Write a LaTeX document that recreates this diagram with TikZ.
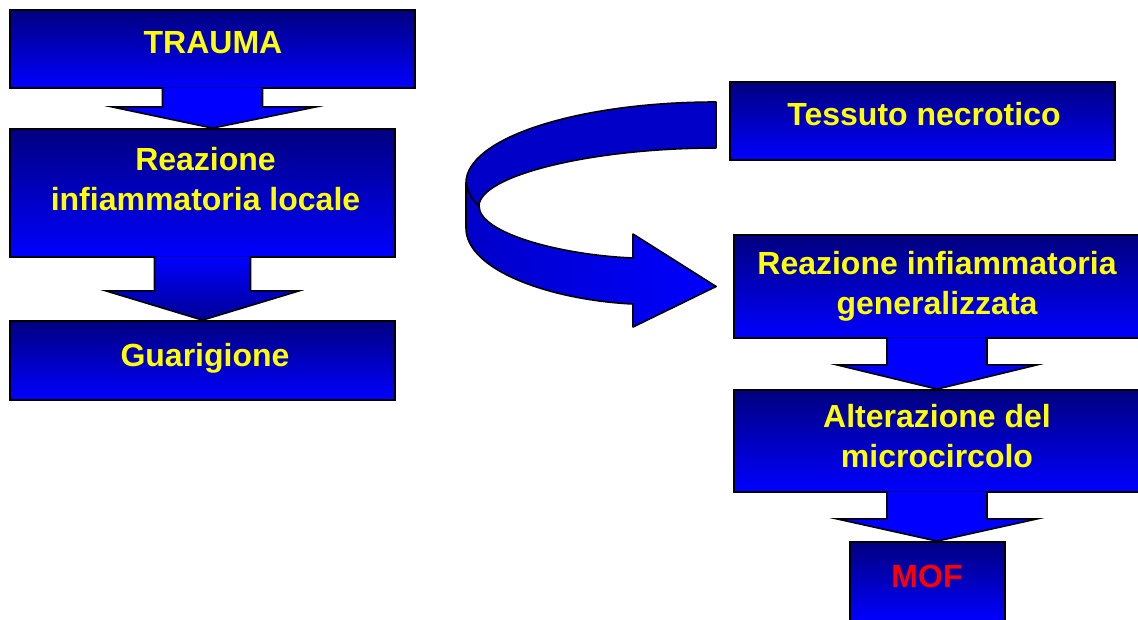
\documentclass[tikz,border=0pt]{standalone}
\usepackage{fontspec}
\setmainfont{Liberation Sans}
\usetikzlibrary{calc}
\definecolor{navyb}{RGB}{0,0,128}
\definecolor{brightb}{RGB}{0,0,255}
\definecolor{midb}{RGB}{0,0,200}
\definecolor{darkb}{RGB}{0,0,150}
\definecolor{txty}{RGB}{255,255,0}
\definecolor{txtr}{RGB}{255,0,0}
\begin{document}
\begin{tikzpicture}[x=1pt,y=-1pt,
  box/.style={draw=black, line width=1.8pt, top color=navyb, bottom color=brightb, inner sep=0pt},
  lbl/.style={text=txty, font=\bfseries\fontsize{32}{40}\selectfont, align=center, anchor=base, inner sep=0pt},
  blockarrow/.style={draw=black, line width=1.6pt, fill=brightb, line join=miter},
  darkarrow/.style={draw=black, line width=1.6pt, top color=brightb, bottom color=darkb, line join=miter},
  curveline/.style={draw=black, line width=1.6pt, line join=round}
]
\useasboundingbox (0,0) rectangle (1138,619);
\clip (0,0) rectangle (1138,619);

% boxes
\node[box, minimum width=405pt, minimum height=78pt] (trauma) at (212.5,49) {};
\node[box, minimum width=385pt, minimum height=128pt] (reaz) at (202.5,193) {};
\node[box, minimum width=385pt, minimum height=79pt] (guar) at (202.5,360.5) {};
\node[box, minimum width=385pt, minimum height=78pt] (tess) at (922.5,121) {};
\node[box, minimum width=406pt, minimum height=103pt] (reazgen) at (937,286.5) {};
\node[box, minimum width=406pt, minimum height=102pt] (alt) at (937,441) {};
\node[box, minimum width=155pt, minimum height=80pt] (mof) at (927.5,582) {};

% block arrows
\path[blockarrow] ($(trauma.south)+(-50,-1.5)$) -- ($(trauma.south)+(-50,18)$) -- ($(trauma.south)+(-100.5,18)$)
  -- (trauma.south |- reaz.north) -- ($(trauma.south)+(103.5,18)$) -- ($(trauma.south)+(50,18)$) -- ($(trauma.south)+(50,-1.5)$);
\path[darkarrow] ($(reaz.south)+(-48,-1.5)$) -- ($(reaz.south)+(-48,33)$) -- ($(reaz.south)+(-96.5,33)$)
  -- (reaz.south |- guar.north) -- ($(reaz.south)+(96.5,33)$) -- ($(reaz.south)+(48,33)$) -- ($(reaz.south)+(48,-1.5)$);
\path[blockarrow] ($(reazgen.south)+(-50,-1.5)$) -- ($(reazgen.south)+(-50,26)$) -- ($(reazgen.south)+(-100,26)$)
  -- (reazgen.south |- alt.north) -- ($(reazgen.south)+(100,26)$) -- ($(reazgen.south)+(50,26)$) -- ($(reazgen.south)+(50,-1.5)$);
\path[blockarrow] ($(alt.south)+(-50,-1.5)$) -- ($(alt.south)+(-50,26)$) -- ($(alt.south)+(-100,26)$)
  -- (alt.south |- mof.north) -- ($(alt.south)+(100,26)$) -- ($(alt.south)+(50,26)$) -- ($(alt.south)+(50,-1.5)$);

% curved arrow from tess to reazgen
\coordinate (ca) at ($(tess.west)+(-13,0)$);
\coordinate (tip) at ($(reazgen.west)+(-17,0)$);
\path[curveline, fill=midb] ($(ca)+(0,-19)$) .. controls (578,102) and (466,138) .. (466,183)
  .. controls (468,193) and (472,200) .. (479,206)
  .. controls (479,176) and (590,148) .. ($(ca)+(0,27)$) -- cycle;
\path[curveline, left color=midb, right color=brightb] (466,183) -- (466,228)
  .. controls (466,270) and (550,300) .. (633,304)
  -- (633,327) -- (tip) -- (633,234) -- (633,258)
  .. controls (560,255) and (479,233) .. (479,206)
  .. controls (472,200) and (468,193) .. (466,183) -- cycle;

% labels
\node[lbl] (t1) at (213,53) {TRAUMA};
\node[lbl] (t2) at (205.5,210) {Reazione\\infiammatoria locale};
\node[lbl] (t3) at (205,366) {Guarigione};
\node[lbl] (t4) at (924,125) {Tessuto necrotico};
\node[lbl] (t5) at (937,314) {Reazione infiammatoria\\generalizzata};
\node[lbl] (t6) at (937,467) {Alterazione del\\microcircolo};
\node[lbl, text=txtr] (t7) at (927,587) {MOF};
\end{tikzpicture}
\end{document}
